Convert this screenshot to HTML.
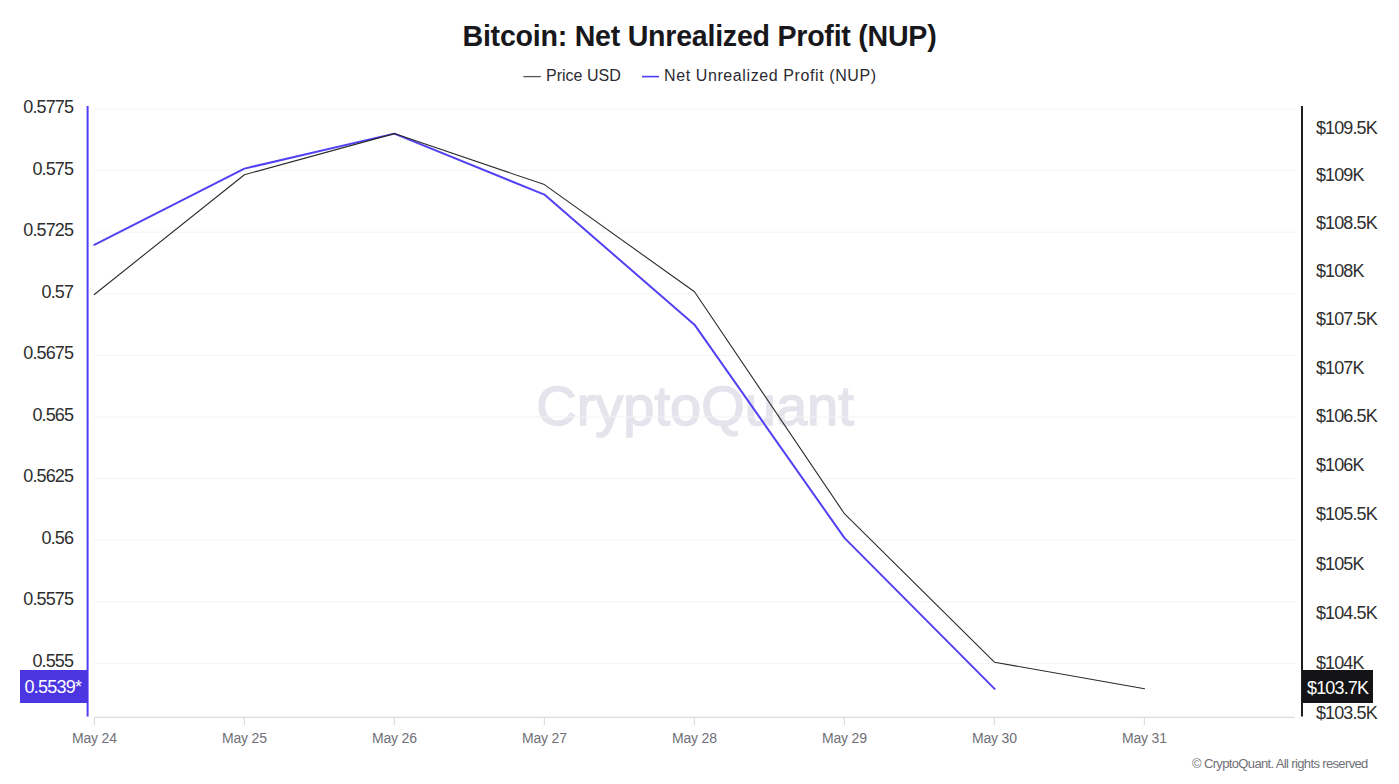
<!DOCTYPE html>
<html><head><meta charset="utf-8">
<style>
html,body{margin:0;padding:0;background:#fff;}
body{width:1399px;height:784px;position:relative;overflow:hidden;font-family:"Liberation Sans",sans-serif;}
.t{position:absolute;white-space:nowrap;line-height:1;}
#title{left:0;width:1399px;text-align:center;top:22px;font-size:28.6px;letter-spacing:-0.25px;font-weight:700;color:#17171c;}
.leg{top:68px;font-size:16px;color:#2b2b30;}
.yl{right:1326px;font-size:18px;color:#2e2e2e;letter-spacing:-0.9px;}
.yr{left:1316px;font-size:18px;color:#2e2e2e;letter-spacing:-0.9px;}
.xl{font-size:14px;color:#6f6f78;letter-spacing:-0.15px;width:100px;text-align:center;top:731px;}
svg{position:absolute;left:0;top:0;}
</style></head><body>
<svg width="1399" height="784" viewBox="0 0 1399 784">
  <!-- watermark -->
  <text x="695" y="424.6" text-anchor="middle" font-family="Liberation Sans" font-size="56" fill="#e5e3eb" stroke="#e5e3eb" stroke-width="1.5">CryptoQuant</text>
  <!-- gridlines -->
  <g stroke="#f3f3f5" stroke-width="1">
    <line x1="94" y1="109" x2="1295" y2="109"/>
    <line x1="94" y1="170.6" x2="1295" y2="170.6"/>
    <line x1="94" y1="232.2" x2="1295" y2="232.2"/>
    <line x1="94" y1="293.8" x2="1295" y2="293.8"/>
    <line x1="94" y1="355.4" x2="1295" y2="355.4"/>
    <line x1="94" y1="417" x2="1295" y2="417"/>
    <line x1="94" y1="478.6" x2="1295" y2="478.6"/>
    <line x1="94" y1="540.2" x2="1295" y2="540.2"/>
    <line x1="94" y1="601.8" x2="1295" y2="601.8"/>
    <line x1="94" y1="663.4" x2="1295" y2="663.4"/>
  </g>
  <!-- x axis -->
  <g stroke="#dcdce4" stroke-width="1.2">
    <line x1="94" y1="717.4" x2="1295" y2="717.4"/>
    <line x1="94.4" y1="717" x2="94.4" y2="725"/>
    <line x1="244.4" y1="717" x2="244.4" y2="725"/>
    <line x1="394.4" y1="717" x2="394.4" y2="725"/>
    <line x1="544.4" y1="717" x2="544.4" y2="725"/>
    <line x1="694.4" y1="717" x2="694.4" y2="725"/>
    <line x1="844.4" y1="717" x2="844.4" y2="725"/>
    <line x1="994.4" y1="717" x2="994.4" y2="725"/>
    <line x1="1144.4" y1="717" x2="1144.4" y2="725"/>
  </g>
  <!-- axes -->
  <line x1="87.6" y1="106" x2="87.6" y2="716.5" stroke="#4f3ef2" stroke-width="2"/>
  <line x1="1302" y1="106" x2="1302" y2="716.5" stroke="#1f1f23" stroke-width="2"/>
  <!-- NUP line -->
  <polyline fill="none" stroke="#5241f2" stroke-width="2" stroke-linejoin="round" stroke-linecap="round"
    points="94.3,244.8 244.4,168.6 394.4,133.6 544.4,194.6 694.5,324.7 844.4,537.9 994.6,688.9"/>
  <!-- Price line -->
  <polyline fill="none" stroke="#2a2a2a" stroke-width="1.1" stroke-linejoin="round" stroke-linecap="round"
    points="94.3,294.5 244.4,174.7 394.4,133.6 544.4,184.6 694.5,291.8 844.4,513.7 994.4,662.2 1144.6,688.7"/>
</svg>

<div id="title" class="t">Bitcoin: Net Unrealized Profit (NUP)</div>

<svg width="1399" height="784" style="pointer-events:none">
  <line x1="523.4" y1="76.6" x2="540.8" y2="76.6" stroke="#555" stroke-width="1.3"/>
  <line x1="642" y1="76.6" x2="659" y2="76.6" stroke="#4f3ef2" stroke-width="1.6"/>
</svg>
<div class="t leg" style="left:546px;">Price USD</div>
<div class="t leg" style="left:664px;letter-spacing:0.6px;">Net Unrealized Profit (NUP)</div>

<div class="t yl" style="top:98.1px">0.5775</div>
<div class="t yl" style="top:159.6px">0.575</div>
<div class="t yl" style="top:221.2px">0.5725</div>
<div class="t yl" style="top:282.7px">0.57</div>
<div class="t yl" style="top:344.2px">0.5675</div>
<div class="t yl" style="top:405.8px">0.565</div>
<div class="t yl" style="top:467.3px">0.5625</div>
<div class="t yl" style="top:528.8px">0.56</div>
<div class="t yl" style="top:590.3px">0.5575</div>
<div class="t yl" style="top:651.9px">0.555</div>
<div class="t" style="left:19.8px;top:669.6px;width:68px;height:33px;background:#4b36e2;"></div>
<div class="t" style="left:24.5px;top:678.2px;font-size:18px;color:#fff;letter-spacing:-0.75px;">0.5539*</div>

<div class="t yr" style="top:118.7px">$109.5K</div>
<div class="t yr" style="top:166.2px">$109K</div>
<div class="t yr" style="top:214.0px">$108.5K</div>
<div class="t yr" style="top:262.0px">$108K</div>
<div class="t yr" style="top:310.2px">$107.5K</div>
<div class="t yr" style="top:358.6px">$107K</div>
<div class="t yr" style="top:407.2px">$106.5K</div>
<div class="t yr" style="top:456.1px">$106K</div>
<div class="t yr" style="top:505.2px">$105.5K</div>
<div class="t yr" style="top:554.5px">$105K</div>
<div class="t yr" style="top:604.1px">$104.5K</div>
<div class="t yr" style="top:653.9px">$104K</div>
<div class="t yr" style="top:704.0px">$103.5K</div>
<div class="t" style="left:1301.5px;top:669.9px;width:71.4px;height:32.7px;background:#141416;"></div>
<div class="t" style="left:1307px;top:678.8px;font-size:18px;color:#fff;letter-spacing:-0.85px;">$103.7K</div>

<div class="t xl" style="left:44.4px">May 24</div>
<div class="t xl" style="left:194.4px">May 25</div>
<div class="t xl" style="left:344.4px">May 26</div>
<div class="t xl" style="left:494.4px">May 27</div>
<div class="t xl" style="left:644.4px">May 28</div>
<div class="t xl" style="left:794.4px">May 29</div>
<div class="t xl" style="left:944.4px">May 30</div>
<div class="t xl" style="left:1094.4px">May 31</div>

<div class="t" style="left:1192px;top:756.8px;font-size:13px;color:#707078;letter-spacing:-0.64px;">© CryptoQuant. All rights reserved</div>
</body></html>
